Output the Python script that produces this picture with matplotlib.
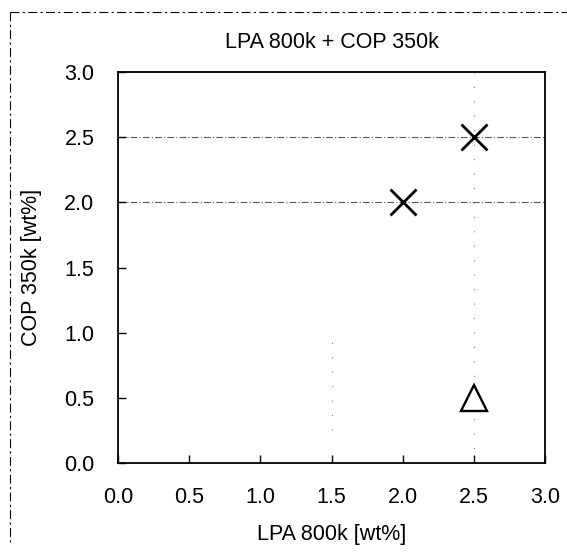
import numpy as np
import matplotlib.pyplot as plt
from matplotlib.lines import Line2D

plt.rcParams['font.family'] = ['Liberation Sans', 'DejaVu Sans']

# data
lpa_x = [2.0, 2.5]
cop_x = [2.0, 2.5]
lpa_tri = [2.5]
cop_tri = [0.5]
ticks = [0.0, 0.5, 1.0, 1.5, 2.0, 2.5, 3.0]
tick_labels = ['0.0', '0.5', '1.0', '1.5', '2.0', '2.5', '3.0']

fig = plt.figure(figsize=(5.67, 5.52), dpi=100)
ax = fig.add_axes([118/567, 1-463/552, (545-118)/567, (463-72)/552])

# faint scanned grid lines
for yv in [2.0, 2.5]:
    ax.axhline(yv, color='0.35', lw=0.8, ls=(0, (6, 2, 1, 2)), zorder=1)
ax.axvline(2.5, color='0.5', lw=0.8, ls=(0, (1, 12)), zorder=1)
ax.plot([1.5, 1.5], [0.25, 1.0], color='0.5', lw=0.8, ls=(0, (1, 12)), zorder=1)

ax.plot(lpa_x, cop_x, ls='none', marker='x', ms=19, mew=2.0, color='black', zorder=3)
ax.plot(lpa_tri, cop_tri, ls='none', marker='^', ms=19, mew=1.7,
        mfc='white', mec='black', zorder=3)

ax.set_xlim(0, 3)
ax.set_ylim(0, 3)
ax.set_xticks(ticks)
ax.set_xticklabels(tick_labels)
ax.set_yticks(ticks)
ax.set_yticklabels(tick_labels)
ax.tick_params(direction='in', length=6, width=1, labelsize=15.5)
ax.tick_params(axis='x', pad=17)
ax.tick_params(axis='y', pad=17)
for s in ax.spines.values():
    s.set_linewidth(1.3)

ax.set_title('LPA 800k + COP 350k', fontsize=15.5, pad=17)
ax.set_xlabel('LPA 800k [wt%]', fontsize=15.5, labelpad=12)
ax.set_ylabel('COP 350k [wt%]', fontsize=15.5, labelpad=16)

# dashed frame of the original figure box
fig.add_artist(Line2D([10/567, 1], [1-12/552, 1-12/552], transform=fig.transFigure,
                      color='black', lw=0.8, ls=(0, (8, 3, 2, 3))))
fig.add_artist(Line2D([10/567, 10/567], [1-12/552, 10/552], transform=fig.transFigure,
                      color='black', lw=0.8, ls=(0, (8, 3, 2, 3))))

fig.savefig('out.png', dpi=100)
